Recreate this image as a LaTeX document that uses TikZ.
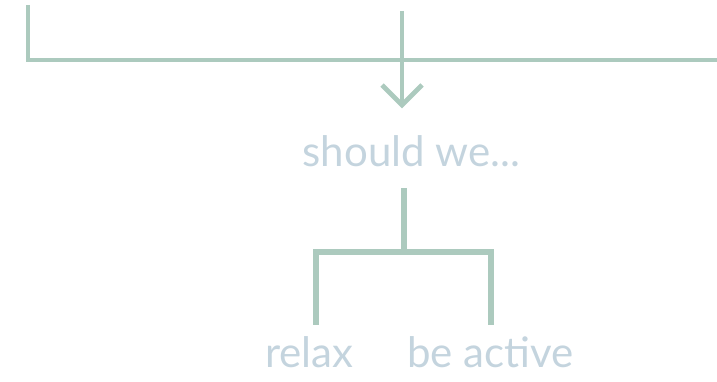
\documentclass[tikz,border=0pt]{standalone}
\usetikzlibrary{calc}
\usepackage{fontspec}
\setmainfont{Lato}
\definecolor{linec}{RGB}{172,202,190}
\definecolor{textc}{RGB}{196,212,222}
\begin{document}
\begin{tikzpicture}[x=1pt,y=-1pt,
  upline/.style={draw=linec,line width=4.7pt,line join=miter},
  lowline/.style={draw=linec,line width=5.3pt,line join=miter},
  label/.style={text=textc,font=\fontsize{42}{50}\selectfont,anchor=base,
    text height=31pt,text depth=0pt,inner xsep=0pt}]
\useasboundingbox (0,0) rectangle (717,382);
% nodes
\node[label,inner ysep=21pt] (should) at (411.5,167) {should we...};
\node[label,inner ysep=11pt] (relax) at (309.2,367) {relax};
\node[label,inner ysep=11pt] (active) at (490.4,367) {be active};
% top bracket
\coordinate (tl) at (28,5);
\coordinate (tr) at (717,60);
\draw[upline] (tl) |- (tr);
% arrow into "should we..."
\coordinate (ctop) at (402,11);
\coordinate (tip) at (402,105);
\draw[upline] (ctop) -- (tip);
\draw[upline] ($(tip)+(-20,-20)$) -- (tip) -- ($(tip)+(20,-20)$);
% lower split
\coordinate (j) at (404,252);
\coordinate (lx) at (316,0);
\coordinate (rx) at (491,0);
\draw[lowline] (should.south -| j) -- (j);
\draw[lowline] (relax.north -| lx) |- (j) -| (active.north -| rx);
\end{tikzpicture}
\end{document}
